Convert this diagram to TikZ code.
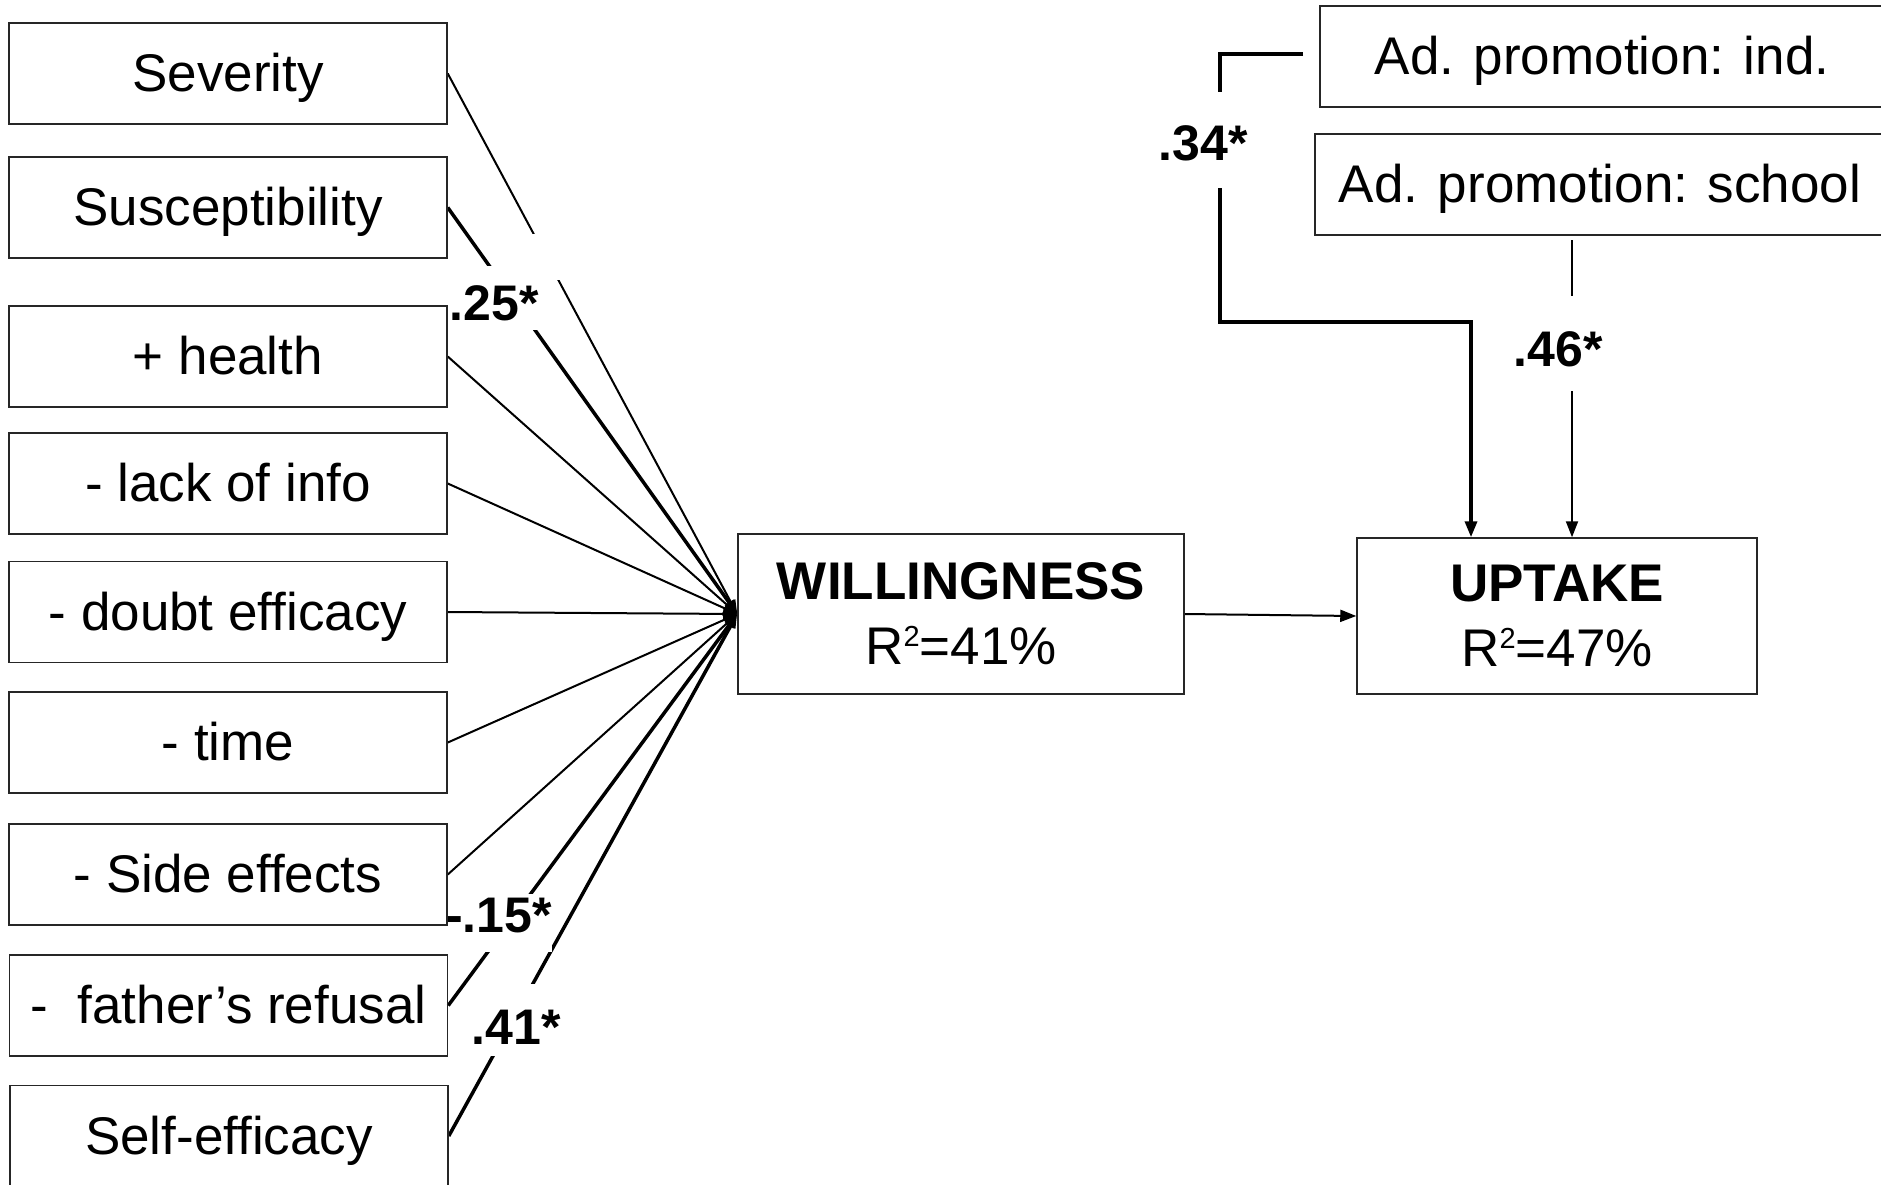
\documentclass[tikz,border=0pt]{standalone}
\usepackage{fontspec}
\setmainfont{Liberation Sans}
\usetikzlibrary{arrows.meta}
\pgfdeclarelayer{lines}
\pgfdeclarelayer{labs}
\pgfsetlayers{lines,labs,main}
\newcommand{\rsq}{R\raisebox{18pt}{\fontsize{29}{29}\selectfont 2}}
\tikzset{
  box/.style={draw=black!85, line width=1.5pt, rectangle, inner sep=0pt,
    font=\fontsize{53}{65}\selectfont},
  onebox/.style={box, text height=36pt, text depth=0pt},
  lbox/.style={onebox, minimum width=438pt, minimum height=101pt},
  thin/.style={line width=2pt},
  thick/.style={line width=3.5pt},
  tipc/.style={-{Triangle[length=14pt,width=10pt]}},
  tipu/.style={-{Triangle[length=16pt,width=12pt]}},
  lab/.style={fill=white, inner xsep=0pt, inner ysep=0pt, anchor=base,
    font=\fontsize{50}{55}\selectfont\bfseries}
}
\begin{document}
\begin{tikzpicture}[x=1pt,y=-1pt]
\useasboundingbox (0,0) rectangle (1881,1184);
% left boxes
\node[lbox] (sev) at (228,73.5) {Severity};
\node[lbox] (sus) at (228,207.5) {Susceptibility};
\node[lbox] (hea) at (228,356.5) {+ health};
\node[lbox] (lac) at (228,483.5) {- lack of info};
\node[lbox] (dou) at (228,612) {- doubt efficacy};
\node[lbox] (tim) at (228,742.5) {- time};
\node[lbox] (sid) at (228,874.5) {- Side effects};
\node[lbox] (fat) at (228.5,1005.5) {-~~father’s refusal};
\node[lbox] (sel) at (229,1136) {Self-efficacy};
% central boxes
\node[box, align=center, minimum width=446pt, minimum height=160pt] (will) at (961,614)
  {\textbf{WILLINGNESS}\\\rsq=41\%};
\node[box, align=center, minimum width=400pt, minimum height=156pt] (up) at (1557,616)
  {\textbf{UPTAKE}\\\rsq=47\%};
\node[onebox, minimum width=564pt, minimum height=101pt] (ind) at (1602,56.5)
  {Ad. promotion: ind.};
\node[onebox, minimum width=570pt, minimum height=101pt] (sch) at (1600,184.5)
  {Ad. promotion: school};
\begin{pgfonlayer}{lines}
% converging connectors
\draw[thin,tipc] (sev.east) -- (will.west);
\draw[thick,tipc] (sus.east) -- (will.west);
\draw[thin,tipc] (hea.east) -- (will.west);
\draw[thin,tipc] (lac.east) -- (will.west);
\draw[thin,tipc] (dou.east) -- (will.west);
\draw[thin,tipc] (tim.east) -- (will.west);
\draw[thin,tipc] (sid.east) -- (will.west);
\draw[thick,tipc] (fat.east) -- (will.west);
\draw[thick,tipc] (sel.east) -- (will.west);
% willingness -> uptake
\draw[thin,tipu] (will.east) -- (up.west);
% ad promotion connectors
\coordinate (iA) at (1303,54);
\coordinate (iB) at (1220,322);
\draw[thick,tipu] (iA) -| (iB) -| ([xshift=-86pt]up.north);
\coordinate (sA) at (1572,240);
\draw[thin,tipu] (sA) -- ([xshift=15pt]up.north);
\end{pgfonlayer}
\begin{pgfonlayer}{labs}
% labels
\fill[white] (494,234) rectangle (560,280);
\node[lab, text height=54pt, text depth=10pt] (l25) at (494,320) {.25*};
\node[lab, text height=38pt, text depth=20pt] (l15) at (499,932) {-.15*};
\node[lab, text height=60pt, text depth=12pt] (l41) at (516,1044) {.41*};
\node[lab, text height=68pt, text depth=28pt] (l34) at (1203,160) {.34*};
\node[lab, text height=70pt, text depth=25pt] (l46) at (1558,366) {.46*};
\end{pgfonlayer}
\end{tikzpicture}
\end{document}
